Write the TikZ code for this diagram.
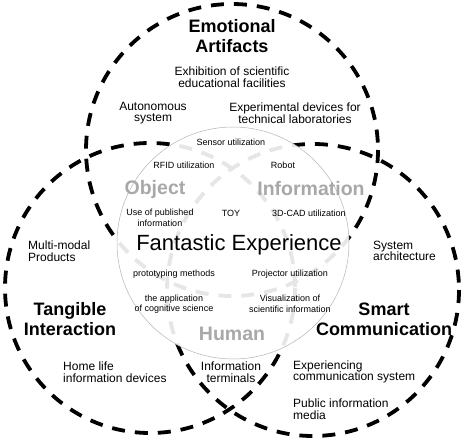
\documentclass[tikz,border=0pt]{standalone}
\usepackage{fontspec}
\setmainfont{Liberation Sans}
\definecolor{labelgray}{HTML}{A8A8A8}
\definecolor{dashgray}{HTML}{E6E6E6}
\definecolor{rimgray}{HTML}{B4B4B4}
\tikzset{
  bigring/.style={line width=3.8pt, dash pattern=on 13pt off 10pt},
  title/.style={font=\fontsize{18}{20}\selectfont\bfseries, align=center, inner sep=0pt},
  body/.style={font=\fontsize{12}{11.5}\selectfont, align=center, inner sep=0pt},
  bodyleft/.style={font=\fontsize{12}{11.5}\selectfont, align=left, inner sep=0pt, anchor=west},
  small/.style={font=\fontsize{9}{10.5}\selectfont, align=center, inner sep=0pt},
  glabel/.style={font=\fontsize{19.5}{20}\selectfont\bfseries, text=labelgray, inner sep=0pt},
  center/.style={font=\fontsize{22}{24}\selectfont, inner sep=0pt}
}
\begin{document}
\begin{tikzpicture}[x=1pt,y=-1pt]
\useasboundingbox (0,0) rectangle (468,438);
% big dashed circles
\draw[bigring] (232,150) circle[radius=146];
\draw[bigring] (150,288) circle[radius=145];
\draw[bigring] (313,290) circle[radius=146];
% inner circle
\fill[white] (233,243) circle[radius=116];
\begin{scope}
  \clip (233,243) circle[radius=116];
  \draw[bigring, dashgray] (232,150) circle[radius=146];
  \draw[bigring, dashgray] (150,288) circle[radius=145];
  \draw[bigring, dashgray] (313,290) circle[radius=146];
\end{scope}
\draw[rimgray, line width=0.5pt] (233,243) circle[radius=116];
% outer labels
\node[title] (emo) at (232,36) {Emotional\\Artifacts};
\node[body] (exh) at (232,77) {Exhibition of scientific\\educational facilities};
\node[body] (auto) at (153,113) {Autonomous\\system};
\node[body] (expd) at (295,113) {Experimental devices for\\technical laboratories};
\node[bodyleft] (multi) at (28,251) {Multi-modal\\Products};
\node[bodyleft] (sysa) at (373,251) {System\\architecture};
\node[title] (tang) at (70,319) {Tangible\\Interaction};
\node[title] (smart) at (384,319) {Smart\\Communication};
\node[bodyleft] (home) at (63,372) {Home life\\information devices};
\node[body] (term) at (231,372) {Information\\terminals};
\node[bodyleft] (excs) at (293,372) {Experiencing\\communication system};
\node[bodyleft] (pub) at (293,409) {Public information\\media};
% inner labels
\node[small] (sensor) at (231,142) {Sensor utilization};
\node[small] (rfid) at (184,165) {RFID utilization};
\node[small] (robot) at (283,165) {Robot};
\node[glabel] (obj) at (155,189) {Object};
\node[glabel] (info) at (311,189) {Information};
\node[small] (usepub) at (160,218) {Use of published\\information};
\node[small] (toy) at (231,213) {TOY};
\node[small] (cad) at (309,213) {3D-CAD utilization};
\node[center] (fe) at (239,245) {Fantastic Experience};
\node[small] (proto) at (174,274) {prototyping methods};
\node[small] (proj) at (290,274) {Projector utilization};
\node[small] (cog) at (174,304) {the application\\of cognitive science};
\node[small] (vis) at (290,304) {Visualization of\\scientific information};
\node[glabel] (hum) at (232,334) {Human};
\end{tikzpicture}
\end{document}
